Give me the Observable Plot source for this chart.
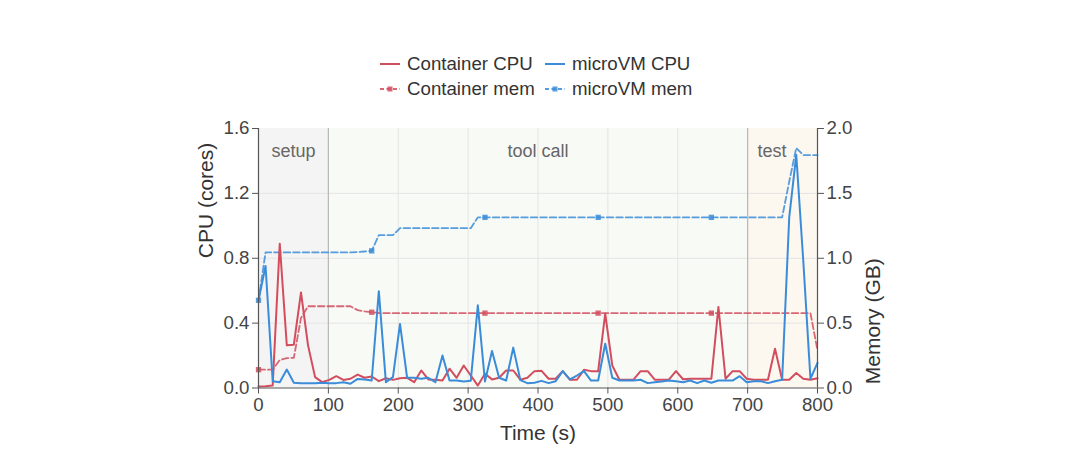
<!DOCTYPE html>
<html><head><meta charset="utf-8">
<script src="https://cdn.jsdelivr.net/npm/d3@7"></script>
<script src="https://cdn.jsdelivr.net/npm/@observablehq/plot@0.6"></script>
<style>
body{margin:0;background:#fff;font-family:"Liberation Sans",Arial,sans-serif;}
#wrap{width:1080px;}
#legend{position:relative;width:1080px;height:110px;}
.item{position:absolute;display:flex;align-items:center;font-size:18.7px;color:#333;white-space:nowrap;}
.item svg{margin-right:7px;}
</style></head>
<body><div id="wrap"><div id="legend"></div><div id="chart"></div></div>
<script>
const time = [0,10.1,20.3,30.4,40.5,50.6,60.8,70.9,81.0,91.1,101.3,111.4,121.5,131.6,141.8,151.9,162.0,172.2,182.3,192.4,202.5,212.7,222.8,232.9,243.0,253.2,263.3,273.4,283.5,293.7,303.8,313.9,324.1,334.2,344.3,354.4,364.6,374.7,384.8,394.9,405.1,415.2,425.3,435.4,445.6,455.7,465.8,475.9,486.1,496.2,506.3,516.5,526.6,536.7,546.8,557.0,567.1,577.2,587.3,597.5,607.6,617.7,627.8,638.0,648.1,658.2,668.4,678.5,688.6,698.7,708.9,719.0,729.1,739.2,749.4,759.5,769.6,779.7,789.9,800.0];

const containerCpu = [0.01,0.011,0.015,0.89,0.263,0.267,0.589,0.263,0.067,0.036,0.05,0.073,0.05,0.057,0.083,0.063,0.071,0.042,0.06,0.05,0.06,0.063,0.036,0.108,0.053,0.051,0.046,0.119,0.063,0.139,0.077,0.015,0.088,0.053,0.063,0.108,0.108,0.051,0.063,0.104,0.106,0.057,0.057,0.104,0.051,0.051,0.112,0.104,0.104,0.459,0.139,0.051,0.051,0.051,0.104,0.104,0.051,0.051,0.051,0.104,0.054,0.057,0.057,0.057,0.057,0.5,0.057,0.104,0.104,0.057,0.051,0.051,0.051,0.242,0.051,0.051,0.092,0.057,0.051,0.06];

const microvmCpu = [0.54,0.752,0.042,0.036,0.114,0.032,0.03,0.03,0.03,0.032,0.03,0.03,0.036,0.026,0.056,0.052,0.046,0.597,0.036,0.067,0.395,0.063,0.063,0.057,0.063,0.036,0.2,0.046,0.046,0.04,0.045,0.51,0.04,0.228,0.063,0.046,0.249,0.049,0.03,0.032,0.044,0.03,0.042,0.104,0.053,0.077,0.104,0.046,0.046,0.273,0.063,0.046,0.046,0.046,0.051,0.03,0.036,0.04,0.046,0.041,0.036,0.046,0.03,0.046,0.032,0.046,0.046,0.046,0.073,0.036,0.042,0.042,0.03,0.042,0.051,1.05,1.438,0.78,0.057,0.155];

const containerMem = [0.141,0.141,0.141,0.215,0.23,0.233,0.54,0.63,0.63,0.63,0.63,0.63,0.63,0.63,0.6,0.59,0.584,0.578,0.577,0.577,0.577,0.577,0.577,0.577,0.577,0.577,0.577,0.577,0.577,0.577,0.577,0.577,0.577,0.577,0.577,0.577,0.577,0.577,0.577,0.577,0.577,0.577,0.577,0.577,0.577,0.577,0.577,0.577,0.577,0.577,0.577,0.577,0.577,0.577,0.577,0.577,0.577,0.577,0.577,0.577,0.577,0.577,0.577,0.577,0.577,0.577,0.577,0.577,0.577,0.577,0.577,0.577,0.577,0.577,0.577,0.577,0.577,0.577,0.577,0.29];

const microvmMem = [0.676,1.045,1.045,1.045,1.045,1.045,1.045,1.045,1.045,1.045,1.045,1.045,1.045,1.045,1.048,1.052,1.057,1.178,1.178,1.178,1.232,1.232,1.232,1.232,1.232,1.232,1.232,1.232,1.232,1.232,1.232,1.315,1.315,1.315,1.315,1.315,1.315,1.315,1.315,1.315,1.315,1.315,1.315,1.315,1.315,1.315,1.315,1.315,1.315,1.315,1.315,1.315,1.315,1.315,1.315,1.315,1.315,1.315,1.315,1.315,1.315,1.315,1.315,1.315,1.315,1.315,1.315,1.315,1.315,1.315,1.315,1.315,1.315,1.315,1.315,1.59,1.85,1.795,1.795,1.795];

const markerEvery = 16;
const phaseNames = ["setup","tool call","test"];
const phaseStart = [0,100,700];
const phaseEnd = [100,700,800];
const phaseLabelX = [50,400,735];
const phaseFill = ["#f4f4f4","#f8faf6","#fcf7ef"];
const xTicks = [0,100,200,300,400,500,600,700,800];
const cpuTicks = [0,0.4,0.8,1.2,1.6];
const memTicks = [0,0.5,1.0,1.5,2.0];
const seriesNames = ["Container CPU","microVM CPU","Container mem","microVM mem"];
const red = "#d24d5e", blue = "#3a8cd9";
const memScale = 1.6 / 2.0; // map GB onto CPU axis

const rows = time.map((t,i) => ({t, i, cc: containerCpu[i], mc: microvmCpu[i], cm: containerMem[i]*memScale, mm: microvmMem[i]*memScale}));
const marked = rows.filter(d => d.i % markerEvery === 0);
const phases = phaseNames.map((n,k) => ({name:n, start:phaseStart[k], end:phaseEnd[k], lx:phaseLabelX[k], fill:phaseFill[k]}));

// legend
const leg = document.getElementById("legend");
const legPos = [[380,64,red,false],[545,64,blue,false],[380,89,red,true],[545,89,blue,true]];
seriesNames.forEach((name,k) => {
  const [x,y,c,mem] = legPos[k];
  const el = document.createElement("div");
  el.className = "item";
  el.style.left = x + "px"; el.style.top = (y-11) + "px"; el.style.height = "22px";
  el.innerHTML = `<svg width="20" height="10">` +
    (mem ? `<line x1="0" y1="5" x2="20" y2="5" stroke="${c}" stroke-width="1.8" stroke-dasharray="4,2.5" opacity="0.85"/><rect x="7.5" y="2.5" width="5" height="5" fill="${c}" opacity="0.85"/>`
         : `<line x1="0" y1="5" x2="20" y2="5" stroke="${c}" stroke-width="2"/>`) +
    `</svg><span>${name}</span>`;
  leg.appendChild(el);
});

const chart = Plot.plot({
  width: 1080, height: 345,
  marginLeft: 258, marginRight: 263, marginTop: 18, marginBottom: 67.5,
  style: {fontFamily: '"Liberation Sans", Arial, sans-serif', fontSize: "18.7px", color: "#444", background: "#fff"},
  x: {domain: [0, 800]},
  y: {domain: [0, 1.6]},
  marks: [
    ...phases.map(p => Plot.rect([p], {x1: "start", x2: "end", fill: p.fill})),
    Plot.gridX(xTicks.slice(1,-1), {stroke: "#e4e4e4", strokeOpacity: 1, strokeWidth: 1}),
    Plot.gridY(cpuTicks.slice(1,-1), {stroke: "#e4e4e4", strokeOpacity: 1, strokeWidth: 1}),
    Plot.ruleX([100, 700], {stroke: "#b8b8b8", strokeWidth: 1.2}),
    Plot.text(phases, {x: "lx", frameAnchor: "top", dy: 23, text: "name", fill: "#666", fontSize: 18, lineAnchor: "middle"}),
    Plot.line(rows, {x: "t", y: "cm", stroke: red, strokeWidth: 1.8, strokeDasharray: "6.5,3", strokeOpacity: 0.85}),
    Plot.line(rows, {x: "t", y: "mm", stroke: blue, strokeWidth: 1.8, strokeDasharray: "6.5,3", strokeOpacity: 0.85}),
    Plot.dot(marked, {x: "t", y: "cm", symbol: "square", r: 3, fill: red, fillOpacity: 0.85}),
    Plot.dot(marked, {x: "t", y: "mm", symbol: "square", r: 3, fill: blue, fillOpacity: 0.85}),
    Plot.line(rows, {x: "t", y: "cc", stroke: red, strokeWidth: 2}),
    Plot.line(rows, {x: "t", y: "mc", stroke: blue, strokeWidth: 2}),
    Plot.ruleY([0], {stroke: "#555", strokeWidth: 1.2}),
    Plot.ruleX([0, 800], {stroke: "#555", strokeWidth: 1.2}),
    Plot.axisX({ticks: xTicks, tickSize: 6, tickPadding: 4, label: null, stroke: "#555", fontSize: 18.7}),
    Plot.axisY({ticks: cpuTicks, tickSize: 6, tickPadding: 3, label: null, tickFormat: d => d.toFixed(1), stroke: "#555", fontSize: 18.7}),
    Plot.axisY({anchor: "right", ticks: cpuTicks, tickSize: 6, tickPadding: 3, label: null, tickFormat: (d,i) => memTicks[i].toFixed(1), stroke: "#555", fontSize: 18.7}),
    Plot.text(["Time (s)"], {frameAnchor: "bottom", dy: 45.5, fontSize: 21, fill: "#333", lineAnchor: "middle"}),
    Plot.text(["CPU (cores)"], {frameAnchor: "left", dx: -52, rotate: -90, fontSize: 21, fill: "#333", lineAnchor: "middle"}),
    Plot.text(["Memory (GB)"], {frameAnchor: "right", dx: 56, rotate: -90, fontSize: 21, fill: "#333", lineAnchor: "middle"})
  ]
});
document.getElementById("chart").appendChild(chart);
</script></body></html>
